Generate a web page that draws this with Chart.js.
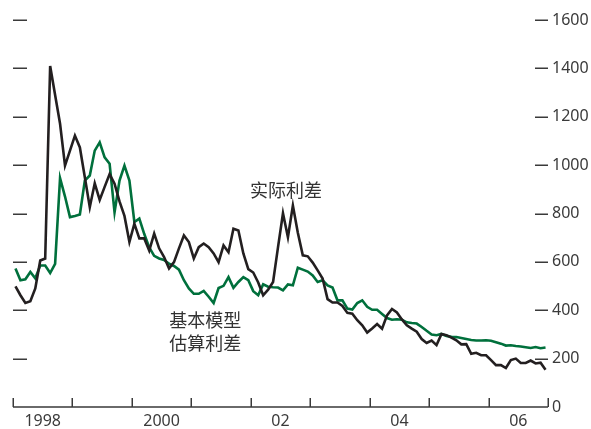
<!DOCTYPE html>
<html>
<head>
<meta charset="utf-8">
<script src="https://cdn.jsdelivr.net/npm/chart.js@4/dist/chart.umd.min.js"></script>
<style>
  html, body { margin: 0; padding: 0; background: #fff; }
  #wrap { width: 591px; height: 429px; position: relative; }
</style>
</head>
<body>
<div id="wrap"><canvas id="chart"></canvas></div>
<script>
// monthly, Jan 1998 - Dec 2006
const yearLabels = ["1998", "", "2000", "", "02", "", "04", "", "06"];
const yTicks = [0, 200, 400, 600, 800, 1000, 1200, 1400, 1600];

// actual spread (black)
const actualSpread = [
  499, 462, 430, 437, 490, 606, 614, 1410, 1290, 1171, 998, 1060,
  1122, 1073, 950, 826, 925, 856, 910, 963, 923, 850, 790, 682,
  758, 697, 697, 647, 717, 656, 620, 573, 599, 656, 709, 682,
  614, 661, 676, 661, 635, 599, 668, 640, 737, 730, 635, 570,
  556, 515, 462, 485, 517, 661, 801, 702, 833, 720, 627, 623,
  597, 565, 531, 446, 432, 432, 418, 389, 386, 359, 338, 308,
  325, 343, 324, 379, 405, 391, 362, 338, 324, 311, 281, 265,
  275, 256, 302, 297, 287, 276, 259, 260, 220, 224, 214, 214,
  194, 173, 173, 161, 194, 200, 182, 182, 192, 180, 183, 154
];

// basic model estimated spread (green)
const modelSpread = [
  573, 524, 528, 558, 532, 585, 585, 554, 592, 946, 870, 785,
  790, 796, 936, 957, 1060, 1094, 1032, 1006, 805, 936, 998, 936,
  765, 779, 715, 660, 625, 614, 608, 592, 583, 568, 524, 490,
  468, 468, 480, 456, 430, 492, 501, 537, 493, 517, 537, 524,
  479, 462, 507, 497, 495, 494, 482, 507, 503, 576, 568, 560,
  544, 517, 524, 503, 494, 441, 441, 407, 403, 430, 441, 414,
  402, 402, 385, 368, 361, 363, 361, 350, 347, 345, 331, 315,
  300, 297, 302, 294, 290, 289, 285, 281, 277, 275, 275, 276,
  274, 268, 262, 254, 255, 252, 250, 247, 244, 248, 243, 246
];

// text labels placed in data units: [month index, value, text]
const labelActual = [55.1, 895, "实际利差"];
const labelModel = [[38.8, 357, "基本模型"], [38.8, 262, "估算利差"]];

const months = actualSpread.length;
const toPoints = (arr) => arr.map((v, i) => ({ x: i + 0.5, y: v }));

const axisColor = "#3a3a3a";
const textFont = "'Noto Sans', 'Liberation Sans', sans-serif";
const cjkFont = "'Noto Sans CJK SC', sans-serif";

const decorations = {
  id: "decorations",
  afterDatasetsDraw(chart) {
    const { ctx, chartArea: a, scales } = chart;
    const x = scales.x, y = scales.y;
    ctx.save();
    ctx.strokeStyle = axisColor;
    ctx.lineWidth = 1.5;
    // x axis line and upward year ticks
    ctx.beginPath();
    ctx.moveTo(a.left, a.bottom);
    ctx.lineTo(a.right, a.bottom);
    for (let m = 0; m <= months; m += 12) {
      const px = Math.round(x.getPixelForValue(m)) + 0.25;
      ctx.moveTo(px, a.bottom);
      ctx.lineTo(px, a.bottom - 9);
    }
    ctx.stroke();
    // short dashes on both sides
    ctx.beginPath();
    yTicks.forEach((v) => {
      if (v === 0) return;
      const py = Math.round(y.getPixelForValue(v)) + 0.25;
      ctx.moveTo(a.left, py);
      ctx.lineTo(a.left + 14, py);
      ctx.moveTo(a.right - 13, py);
      ctx.lineTo(a.right, py);
    });
    ctx.stroke();
    // series labels
    ctx.fillStyle = "#333";
    ctx.font = "18px " + cjkFont;
    ctx.textAlign = "center";
    ctx.textBaseline = "middle";
    ctx.fillText(labelActual[2], x.getPixelForValue(labelActual[0]), y.getPixelForValue(labelActual[1]));
    labelModel.forEach((l) => {
      ctx.fillText(l[2], x.getPixelForValue(l[0]), y.getPixelForValue(l[1]));
    });
    ctx.restore();
  }
};

new Chart(document.getElementById("chart"), {
  type: "line",
  data: {
    datasets: [
      {
        label: "实际利差",
        data: toPoints(actualSpread),
        borderColor: "#231f20",
        borderWidth: 2.6,
        pointRadius: 0,
        tension: 0,
      },
      {
        label: "基本模型估算利差",
        data: toPoints(modelSpread),
        borderColor: "#00703c",
        borderWidth: 2.6,
        pointRadius: 0,
        tension: 0,
      },
    ],
  },
  options: {
    responsive: true,
    maintainAspectRatio: false,
    animation: false,
    layout: { padding: { left: 13, top: 20, right: 0, bottom: 0 } },
    plugins: { legend: { display: false }, tooltip: { enabled: false } },
    scales: {
      x: {
        type: "linear",
        min: 0,
        max: months,
        grid: { display: false, drawTicks: false },
        border: { display: false },
        afterFit: (s) => { s.height = 22; },
        afterBuildTicks: (s) => {
          s.ticks = [];
          for (let m = 6; m < months; m += 12) s.ticks.push({ value: m });
        },
        ticks: {
          autoSkip: false,
          maxRotation: 0,
          padding: 5,
          color: "#3a3a3a",
          font: { family: textFont, size: 16 },
          callback: (v) => yearLabels[(v - 6) / 12] || "",
        },
      },
      y: {
        position: "right",
        min: 0,
        max: 1600,
        grid: { display: false, drawTicks: false },
        border: { display: false },
        afterFit: (s) => { s.width = 43; },
        ticks: {
          stepSize: 200,
          padding: 4,
          color: "#3a3a3a",
          font: { family: textFont, size: 16 },
          callback: (v) => String(v),
        },
      },
    },
  },
  plugins: [decorations],
});
</script>
</body>
</html>
